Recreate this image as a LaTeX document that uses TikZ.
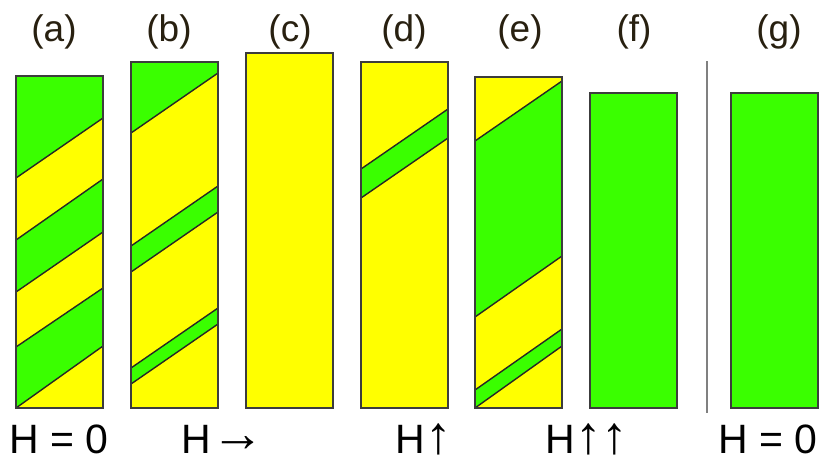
\documentclass[tikz,border=0pt]{standalone}
\usepackage{fontspec}
\setmainfont{Liberation Sans}
\definecolor{grn}{RGB}{58,255,0}
\definecolor{ylw}{RGB}{255,255,0}
\definecolor{bord}{RGB}{60,60,60}
\definecolor{ink}{RGB}{40,32,16}
\newcommand{\bigarr}[1]{{\fontsize{53}{53}\selectfont\bfseries #1}}

\begin{document}
\begin{tikzpicture}[x=1pt,y=-1pt,
  bar/.style={draw=bord,line width=1.5pt},
  stripe/.style={draw=black!85,line width=1.4pt},
  toplabel/.style={anchor=base,text=ink,font=\fontsize{37}{40}\selectfont},
  fieldlabel/.style={anchor=base,text height=49pt,text depth=8pt,
    inner sep=1pt,font=\fontsize{41}{44}\selectfont}]
\useasboundingbox (0,0) rectangle (819,461);

% (a)
\begin{scope}[xshift=16pt]
\fill[ylw] (0,76) rectangle (87,408);
\foreach \p/\q/\r/\s in {76/76/118/178, 240/179/232/292, 347/288/346/408}
  \fill[grn] (0,\p)--(87,\q)--(87,\r)--(0,\s)--cycle;
\foreach \l/\r in {178/118, 240/179, 292/232, 347/288, 408/346}
  \draw[stripe] (0,\l)--(87,\r);
\draw[bar] (0,76) rectangle (87,408);
\end{scope}

% (b)
\begin{scope}[xshift=131pt]
\fill[ylw] (0,62) rectangle (87,408);
\foreach \p/\q/\r/\s in {62/62/73/133, 246/186/212/272, 368/308/324/384}
  \fill[grn] (0,\p)--(87,\q)--(87,\r)--(0,\s)--cycle;
\foreach \l/\r in {133/73, 246/186, 272/212, 368/308, 384/324}
  \draw[stripe] (0,\l)--(87,\r);
\draw[bar] (0,62) rectangle (87,408);
\end{scope}

% (c)
\begin{scope}[xshift=246pt]
\fill[ylw] (0,53) rectangle (87,408);
\draw[bar] (0,53) rectangle (87,408);
\end{scope}

% (d)
\begin{scope}[xshift=361pt]
\fill[ylw] (0,62) rectangle (87,408);
\fill[grn] (0,169)--(87,109)--(87,138)--(0,198)--cycle;
\foreach \l/\r in {169/109, 198/138}
  \draw[stripe] (0,\l)--(87,\r);
\draw[bar] (0,62) rectangle (87,408);
\end{scope}

% (e)
\begin{scope}[xshift=475pt]
\fill[ylw] (0,77) rectangle (87,408);
\foreach \p/\q/\r/\s in {141/81/256/317, 390/329/346/408}
  \fill[grn] (0,\p)--(87,\q)--(87,\r)--(0,\s)--cycle;
\foreach \l/\r in {141/81, 317/256, 390/329, 408/346}
  \draw[stripe] (0,\l)--(87,\r);
\draw[bar] (0,77) rectangle (87,408);
\end{scope}

% (f) and (g)
\foreach \x in {590,731}
  \draw[bar,fill=grn] (\x,93) rectangle ++(87,315);

\coordinate (sepTop) at (707,61);
\coordinate (sepBot) at (707,413);
\draw[gray,line width=1.5pt] (sepTop)--(sepBot);

% labels
\foreach \n/\x in {a/54, b/169, c/290, d/404, e/520, f/634, g/779}
  \node[toplabel] (l\n) at (\x,41) {(\n)};
\node[fieldlabel] (h1) at (59,453) {H = 0};
\node[fieldlabel] (h2) at (223,453) {H\hspace{1pt}\raisebox{2pt}{\bigarr{→}}};
\node[fieldlabel] (h3) at (424,453) {H\bigarr{↑}\hspace{4pt}};
\node[fieldlabel] (h4) at (587,453) {H\bigarr{↑↑}\hspace{4pt}};
\node[fieldlabel] (h5) at (768,453) {H = 0};

\end{tikzpicture}
\end{document}
